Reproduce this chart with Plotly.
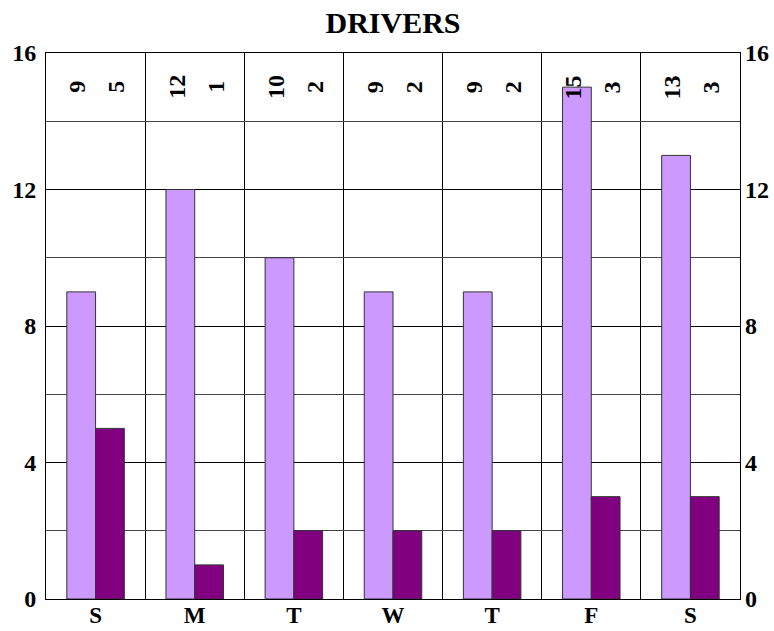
import plotly.graph_objects as go

# Daily driver counts
days = ["S", "M", "T", "W", "T", "F", "S"]
series_a = [9, 12, 10, 9, 9, 15, 13]
series_b = [5, 1, 2, 2, 2, 3, 3]
y_ticks = [0, 4, 8, 12, 16]

x = list(range(len(days)))
FONT = "Liberation Serif, Times New Roman, serif"

fig = go.Figure()
fig.add_trace(go.Bar(
    x=x, y=series_a, marker=dict(color="#CC99FF", line=dict(color="#333333", width=1)),
    showlegend=False, hoverinfo="y",
))
fig.add_trace(go.Bar(
    x=x, y=series_b, marker=dict(color="#800080", line=dict(color="#333333", width=1)),
    showlegend=False, hoverinfo="y",
))
# invisible trace to carry the right-hand axis
fig.add_trace(go.Scatter(x=[x[0]], y=[0], yaxis="y2", mode="markers",
                         marker=dict(opacity=0), showlegend=False, hoverinfo="skip"))

# value labels along the top of each day column
for xi, a, b in zip(x, series_a, series_b):
    for val, shift in ((a, -18), (b, 21)):
        fig.add_annotation(
            x=xi, y=15, xshift=shift, text=f"<b>{val}</b>", textangle=-90,
            showarrow=False, yanchor="middle", xanchor="center",
            font=dict(family=FONT, size=24, color="black"),
        )

tickfont = dict(family=FONT, size=24, color="black")
bold = lambda labels: [f"<b>{t}</b>" for t in labels]

fig.update_layout(
    width=774, height=631,
    margin=dict(l=46, r=34, t=53, b=32, autoexpand=False),
    paper_bgcolor="white", plot_bgcolor="white",
    barmode="group", bargap=0.42, bargroupgap=0,
    title=dict(text="<b>DRIVERS</b>", x=0.5, xref="paper", y=0.965, yanchor="middle",
               xanchor="center", font=dict(family=FONT, size=30, color="black")),
    xaxis=dict(
        range=[-0.5, len(days) - 0.5], tickvals=x, ticktext=bold(days),
        showgrid=False, ticks="", tickfont=dict(family=FONT, size=23, color="black"),
        automargin=False, ticklabelstandoff=-5,
        showline=True, linecolor="black", linewidth=1, mirror=True,
        minor=dict(tickvals=[i + 0.5 for i in x[:-1]], showgrid=True,
                   gridcolor="black", gridwidth=1, ticks=""),
        zeroline=False, fixedrange=True,
    ),
    yaxis=dict(
        range=[0, 16], tickvals=y_ticks, ticktext=bold(str(v) for v in y_ticks),
        showgrid=True, gridcolor="black", gridwidth=1, ticks="",
        tickfont=tickfont, ticklabelstandoff=4, automargin=False,
        showline=True, linecolor="black", linewidth=1, mirror=True,
        minor=dict(dtick=2, tick0=0, showgrid=True, gridcolor="#444444", gridwidth=1, ticks=""),
        zeroline=False,
    ),
    yaxis2=dict(
        range=[0, 16], tickvals=y_ticks, ticktext=bold(str(v) for v in y_ticks),
        overlaying="y", side="right", showgrid=False, ticks="", automargin=False,
        tickfont=tickfont, zeroline=False, showline=False, ticklabelstandoff=4,
    ),
)

fig.write_html("out.html")
